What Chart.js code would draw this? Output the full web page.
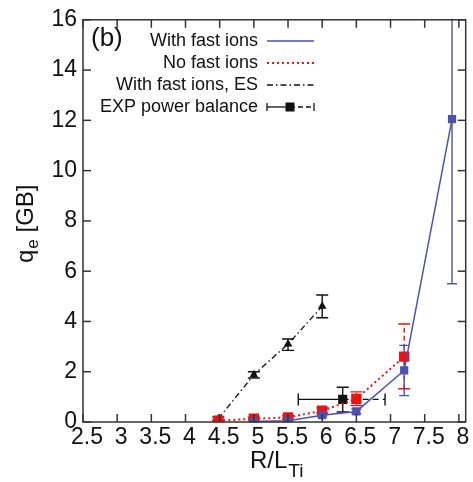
<!DOCTYPE html>
<html>
<head>
<meta charset="utf-8">
<script src="https://cdn.jsdelivr.net/npm/chart.js@4/dist/chart.umd.min.js"></script>
<style>
  html, body { margin: 0; padding: 0; background: #fff; }
  #wrap { width: 473px; height: 482px; }
</style>
</head>
<body>
<div id="wrap"><canvas id="qeChart" width="473" height="482"></canvas></div>
<script>
const xTicks = [2.5, 3, 3.5, 4, 4.5, 5, 5.5, 6, 6.5, 7, 7.5, 8];
const yTicks = [0, 2, 4, 6, 8, 10, 12, 14, 16];

// with fast ions (EM)
const fastX = [5.0, 5.5, 6.0, 6.5, 7.2, 7.9];
const fastY = [0.02, 0.05, 0.27, 0.42, 2.05, 12.05];
const fastLow = [0.0, 0.02, 0.2, 0.33, 1.05, 5.5];
const fastHigh = [0.05, 0.09, 0.34, 0.52, 3.05, 16.5];

// no fast ions
const noFastX = [4.48, 5.0, 5.5, 6.0, 6.5, 7.2];
const noFastY = [0.05, 0.13, 0.18, 0.45, 0.92, 2.6];
const noFastLow = [0.02, 0.08, 0.12, 0.36, 0.65, 1.32];
const noFastHigh = [0.08, 0.19, 0.25, 0.56, 1.2, 3.9];

// with fast ions, electrostatic
const esX = [4.48, 5.0, 5.5, 6.0];
const esY = [0.12, 1.88, 3.1, 4.6];
const esLow = [0.05, 1.75, 2.85, 4.15];
const esHigh = [0.2, 2.0, 3.3, 5.05];

// experiment, power balance
const expX = [6.3];
const expY = [0.9];
const expLowY = [0.4];
const expHighY = [1.38];
const expLowX = [5.65];
const expHighX = [6.92];

const legendLabels = ["With fast ions", "No fast ions", "With fast ions, ES", "EXP power balance"];

const BLUE = "#4a52b0";
const RED = "#f01010";
const BLACK = "#111111";
const FONT = "'Liberation Sans', Arial, Helvetica, sans-serif";

const toPoints = (xs, ys) => xs.map((x, i) => ({ x: x, y: ys[i] }));

function drawSeg(ctx, x1, y1, x2, y2) {
    ctx.beginPath();
    ctx.moveTo(x1, y1);
    ctx.lineTo(x2, y2);
    ctx.stroke();
}

const errorBars = {
    id: "errorBars",
    beforeDatasetsDraw(chart) {
        const ctx = chart.ctx;
        const xs = chart.scales.x, ys = chart.scales.y;
        const area = chart.chartArea;
        ctx.save();
        ctx.beginPath();
        ctx.rect(area.left, area.top - 1, area.right - area.left, area.bottom - area.top + 2);
        ctx.clip();
        chart.data.datasets.slice().reverse().forEach(ds => {
            ctx.strokeStyle = ds.borderColor;
            ctx.lineWidth = 1.4;
            ds.data.forEach((p, i) => {
                const px = xs.getPixelForValue(p.x);
                const py = ys.getPixelForValue(p.y);
                if (ds.errY) {
                    const lo = ys.getPixelForValue(ds.errY.low[i]);
                    const hi = ys.getPixelForValue(ds.errY.high[i]);
                    const c = ds.errY.cap;
                    ctx.setLineDash(ds.errY.dash);
                    drawSeg(ctx, px, lo, px, hi);
                    ctx.setLineDash([]);
                    drawSeg(ctx, px - c, lo, px + c, lo);
                    drawSeg(ctx, px - c, hi, px + c, hi);
                }
                if (ds.errX) {
                    const lo = xs.getPixelForValue(ds.errX.low[i]);
                    const hi = xs.getPixelForValue(ds.errX.high[i]);
                    const c = ds.errX.cap;
                    ctx.setLineDash([]);
                    drawSeg(ctx, lo, py, px, py);
                    ctx.setLineDash([6, 4]);
                    drawSeg(ctx, px, py, hi, py);
                    ctx.setLineDash([]);
                    drawSeg(ctx, lo, py - c, lo, py + c);
                    drawSeg(ctx, hi, py - c, hi, py + c);
                }
            });
        });
        ctx.restore();
    },
    afterDraw(chart) {
        const ctx = chart.ctx;
        const xs = chart.scales.x, ys = chart.scales.y;
        const a = chart.chartArea;
        ctx.save();

        // frame with inward ticks on all sides
        ctx.strokeStyle = "#333";
        ctx.lineWidth = 1.5;
        ctx.strokeRect(a.left, a.top, a.right - a.left, a.bottom - a.top);
        const tl = 8;
        xTicks.forEach(v => {
            const x = xs.getPixelForValue(v);
            drawSeg(ctx, x, a.bottom, x, a.bottom - tl);
            drawSeg(ctx, x, a.top, x, a.top + tl);
        });
        yTicks.forEach(v => {
            const y = ys.getPixelForValue(v);
            drawSeg(ctx, a.left, y, a.left + tl, y);
            drawSeg(ctx, a.right, y, a.right - tl, y);
        });

        // panel tag
        ctx.fillStyle = BLACK;
        ctx.font = "26px " + FONT;
        ctx.textAlign = "left";
        ctx.textBaseline = "middle";
        ctx.fillText("(b)", 91, 39);

        // legend
        const rows = [41, 63, 85, 107];
        const sx1 = 267, sx2 = 314;
        ctx.font = "18px " + FONT;
        ctx.textAlign = "right";
        legendLabels.forEach((lab, i) => ctx.fillText(lab, 258, rows[i]));

        ctx.lineWidth = 1.5;
        ctx.strokeStyle = BLUE;
        drawSeg(ctx, sx1, rows[0], sx2, rows[0]);

        ctx.strokeStyle = RED;
        ctx.lineWidth = 2;
        ctx.setLineDash([2, 3]);
        drawSeg(ctx, sx1, rows[1], sx2, rows[1]);

        ctx.strokeStyle = BLACK;
        ctx.lineWidth = 1.3;
        ctx.setLineDash([6, 3, 1.5, 3]);
        drawSeg(ctx, sx1, rows[2], sx2, rows[2]);

        ctx.setLineDash([]);
        const mx = 290;
        drawSeg(ctx, sx1, rows[3], mx, rows[3]);
        drawSeg(ctx, sx1, rows[3] - 4, sx1, rows[3] + 4);
        ctx.setLineDash([5, 3]);
        drawSeg(ctx, mx, rows[3], sx2, rows[3]);
        ctx.setLineDash([]);
        drawSeg(ctx, sx2, rows[3] - 4, sx2, rows[3] + 4);
        ctx.fillStyle = BLACK;
        ctx.fillRect(mx - 4.5, rows[3] - 4.5, 9, 9);

        // axis titles
        ctx.fillStyle = BLACK;
        ctx.textAlign = "left";
        ctx.textBaseline = "alphabetic";
        ctx.font = "24px " + FONT;
        ctx.fillText("R/L", 250, 468);
        const rw = ctx.measureText("R/L").width;
        ctx.font = "19px " + FONT;
        ctx.fillText("Ti", 250 + rw + 1, 477);

        ctx.translate(33, 263);
        ctx.rotate(-Math.PI / 2);
        ctx.font = "24px " + FONT;
        ctx.fillText("q", 0, 0);
        let w = ctx.measureText("q").width;
        ctx.font = "17px " + FONT;
        ctx.fillText("e", w + 1, 5);
        w += ctx.measureText("e").width + 1;
        ctx.font = "24px " + FONT;
        ctx.fillText(" [GB]", w, 0);

        ctx.restore();
    }
};

new Chart(document.getElementById("qeChart"), {
    type: "scatter",
    data: {
        datasets: [
            {
                label: legendLabels[0],
                data: toPoints(fastX, fastY),
                showLine: true,
                borderColor: BLUE,
                backgroundColor: BLUE,
                borderWidth: 1.5,
                pointStyle: "rect",
                pointRadius: 5.8,
                pointBorderWidth: 0,
                errY: { low: fastLow, high: fastHigh, cap: 5, dash: [] }
            },
            {
                label: legendLabels[1],
                data: toPoints(noFastX, noFastY),
                showLine: true,
                borderColor: RED,
                backgroundColor: RED,
                borderWidth: 2,
                borderDash: [2, 3],
                pointStyle: "rect",
                pointRadius: 7.3,
                pointBorderWidth: 0,
                errY: { low: noFastLow, high: noFastHigh, cap: 6, dash: [5, 3] }
            },
            {
                label: legendLabels[2],
                data: toPoints(esX, esY),
                showLine: true,
                borderColor: BLACK,
                backgroundColor: BLACK,
                borderWidth: 1.3,
                borderDash: [6, 3, 1.5, 3],
                pointStyle: "triangle",
                pointRadius: 5,
                pointBorderWidth: 0,
                errY: { low: esLow, high: esHigh, cap: 6, dash: [] }
            },
            {
                label: legendLabels[3],
                data: toPoints(expX, expY),
                showLine: false,
                borderColor: BLACK,
                backgroundColor: BLACK,
                pointStyle: "rect",
                pointRadius: 6.4,
                pointBorderWidth: 0,
                errY: { low: expLowY, high: expHighY, cap: 6, dash: [] },
                errX: { low: expLowX, high: expHighX, cap: 6 }
            }
        ]
    },
    options: {
        responsive: false,
        animation: false,
        devicePixelRatio: 1,
        layout: { padding: { top: 15, right: 5, left: 0, bottom: 0 } },
        plugins: {
            legend: { display: false },
            tooltip: { enabled: false }
        },
        scales: {
            x: {
                type: "linear",
                min: 2.5,
                max: 8.1,
                afterBuildTicks: scale => { scale.ticks = xTicks.map(v => ({ value: v })); },
                afterFit: scale => { scale.height = 60; },
                grid: { display: false, drawTicks: false },
                border: { display: false },
                ticks: {
                    autoSkip: false,
                    maxRotation: 0,
                    padding: 2,
                    labelOffset: 4,
                    color: BLACK,
                    font: { family: FONT, size: 23 },
                    callback: v => String(v)
                }
            },
            y: {
                min: 0,
                max: 16,
                afterBuildTicks: scale => { scale.ticks = yTicks.map(v => ({ value: v })); },
                afterFit: scale => { scale.width = 83; },
                grid: { display: false, drawTicks: false },
                border: { display: false },
                ticks: {
                    padding: 6,
                    color: BLACK,
                    font: { family: FONT, size: 23 },
                    callback: v => String(v)
                }
            }
        }
    },
    plugins: [errorBars]
});
</script>
</body>
</html>
